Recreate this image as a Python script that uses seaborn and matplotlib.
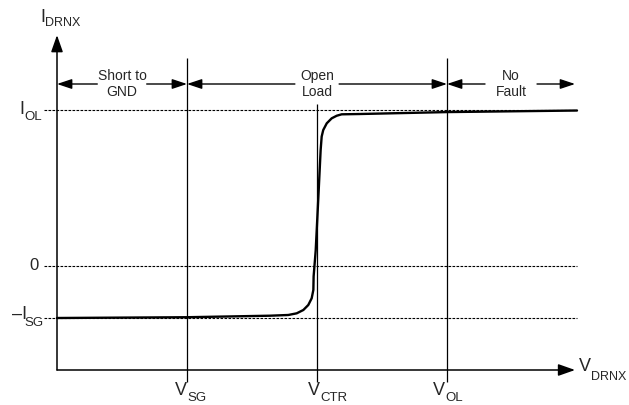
import numpy as np
import pandas as pd
import matplotlib
matplotlib.use("Agg")
import matplotlib.pyplot as plt
import seaborn as sns

# transfer curve I_DRNX vs V_DRNX (arbitrary units)
curve_v = [0.00, 1.00, 1.638, 1.779, 1.844, 1.895, 1.933, 1.959, 1.972, 1.974,
           1.99, 2.01, 2.028, 2.036, 2.048, 2.075, 2.113, 2.152, 2.19, 2.33, 3.00, 4.00]
curve_i = [-1.00, -0.985, -0.956, -0.942, -0.91, -0.846, -0.75, -0.621, -0.46, -0.2,
           0.3, 1.3, 2.23, 2.49, 2.615, 2.744, 2.84, 2.89, 2.917, 2.923, 2.96, 2.99]

# threshold voltages
v_marks = [1, 2, 3]
v_names = ["SG", "CTR", "OL"]

# current levels (dashed guides)
i_levels = [3, 0, -1]

# fault regions along the top
region_names = ["Short to\nGND", "Open\nLoad", "No\nFault"]
region_start = [0, 1, 3]
region_end = [1, 3, 3.985]

df = pd.DataFrame({"V_DRNX": curve_v, "I_DRNX": curve_i})

sns.set_theme(style="white")
plt.rcParams["font.family"] = ["Liberation Sans", "DejaVu Sans"]

fig = plt.figure(figsize=(6.29, 4.05), dpi=100)
ax = fig.add_axes([0, 0, 1, 1])
ax.set_xlim(-57 / 130, 572 / 130)
ax.set_ylim(-139 / 52, 266 / 52)
ax.axis("off")

axis_y = -2.0

# dashed level lines
ax.hlines(i_levels, -0.1, 4.0, colors="black", linewidth=0.8, linestyles=(0, (2.4, 1.2)))

# vertical threshold lines
tops = [4.0, 3.115, 4.0]
ax.vlines(v_marks, -2.23, tops, colors="black", linewidth=0.9)

# axes with arrows
arrow_axis = dict(arrowstyle="-|>,head_length=0.85,head_width=0.3",
                  color="black", lw=1.1, shrinkA=0, shrinkB=0)
ax.annotate("", xy=(0, 4.44), xytext=(0, axis_y), arrowprops=arrow_axis)
ax.annotate("", xy=(3.985, axis_y), xytext=(0, axis_y), arrowprops=arrow_axis)

# the curve
sns.lineplot(data=df, x="V_DRNX", y="I_DRNX", ax=ax, color="black", linewidth=1.7,
             sort=False, estimator=None)

# region arrows + labels
gaps = [0.19, 0.17, 0.2]
ry = 3.5
arrow_reg = dict(arrowstyle="-|>,head_length=0.75,head_width=0.25",
                 color="black", lw=1.0, shrinkA=0, shrinkB=0)
for name, a, b, g in zip(region_names, region_start, region_end, gaps):
    mid = (a + b) / 2
    ax.annotate("", xy=(a, ry), xytext=(mid - g, ry), arrowprops=arrow_reg)
    ax.annotate("", xy=(b, ry), xytext=(mid + g, ry), arrowprops=arrow_reg)
    ax.text(mid, ry, name, ha="center", va="center", fontsize=10,
            linespacing=1.1)


def label(x, y_main, y_sub, main, sub, size=13, sub_size=9.5):
    ax.text(x, y_main, main, ha="right", va="center", fontsize=size)
    ax.text(x, y_sub, sub, ha="left", va="center", fontsize=sub_size)


# voltage labels
offsets = [0.0, 0.025, -0.015]
for v, n, o in zip(v_marks, v_names, offsets):
    label(v + o, -2.385, -2.54, "V", n)
label(4.11, -1.93, -2.13, "V", "DRNX", sub_size=9)

# current labels
label(-0.092, 4.77, 4.68, "I", "DRNX", sub_size=9)
label(-0.254, i_levels[0], 2.856, "I", "OL")
ax.text(-0.177, i_levels[1], "0", ha="center", va="center", fontsize=12)
ax.text(-0.231, -0.942, "\u2013I", ha="right", va="center", fontsize=13)
ax.text(-0.254, -1.096, "SG", ha="left", va="center", fontsize=9.5)

fig.savefig("out.png", dpi=100)
